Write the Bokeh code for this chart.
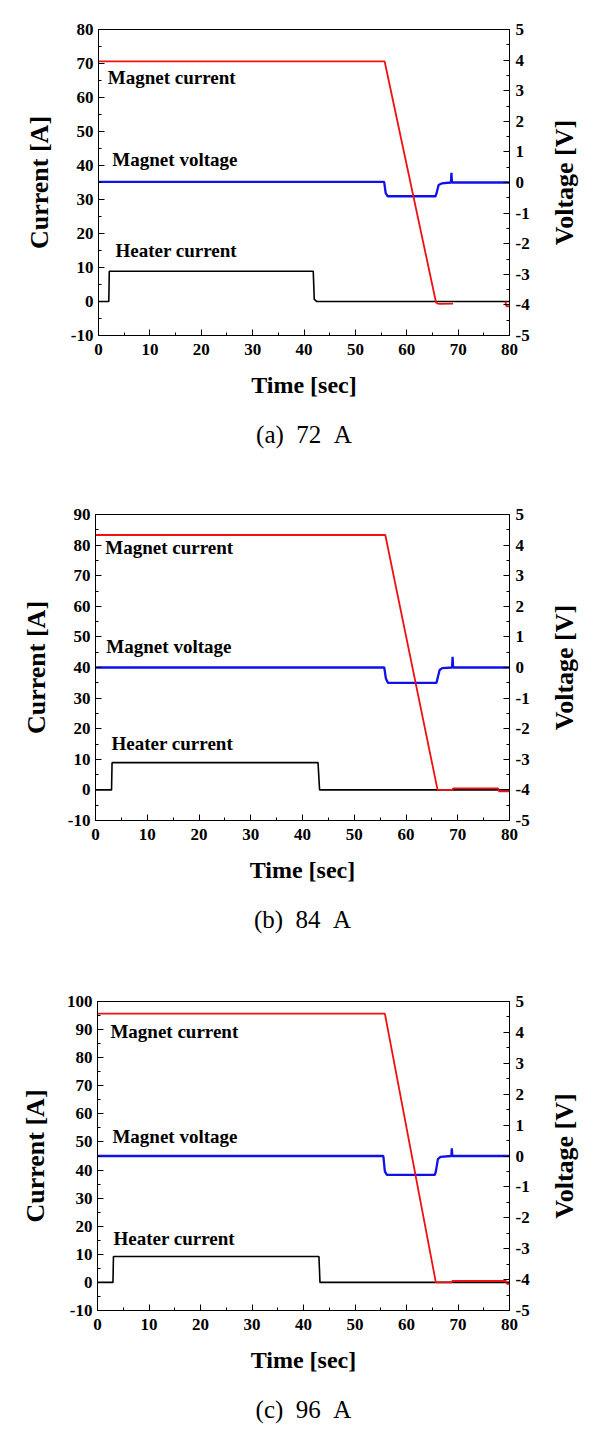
import math
from bokeh.plotting import figure
from bokeh.models import Range1d, LinearAxis, SingleIntervalTicker, Label, Title, PrintfTickFormatter
from bokeh.layouts import column, row
from bokeh.embed import file_html
from bokeh.resources import INLINE

nan = float("nan")

# ---- Panel (a) 72 A ----
a_heater_t = [0, 2.0, 2.1, 41.8, 42.0, 42.5, 80]
a_heater_i = [0, 0, 8.9, 8.9, 0.6, 0, 0]
a_magnet_t = [0, 55.7, 65.7, 66.0, 66.5, 69.0, nan, 79.2, 79.4, 80]
a_magnet_i = [70.6, 70.6, -0.3, -0.6, -0.7, -0.6, nan, 0, -1.4, -1.4]
a_volt_t = [0, 55.6, 55.9, 56.3, 65.6, 65.8, 66.2, 66.8, 68.6, 68.7, 68.8, 69.0, 80]
a_volt_v = [0.02, 0.02, -0.35, -0.45, -0.45, -0.35, -0.08, -0.03, 0.0, 0.32, 0.0, 0.0, 0.0]

# ---- Panel (b) 84 A ----
b_heater_t = [0, 3.1, 3.2, 43.0, 43.3, 80]
b_heater_i = [0, 0, 8.9, 8.9, 0, 0]
b_magnet_t = [0, 56.0, 66.1, 69.0, 69.1, 77.8, 78.0, 80]
b_magnet_i = [83.3, 83.3, 0, 0, 0.5, 0.5, -0.5, -0.5]
b_volt_t = [0, 55.8, 56.1, 56.5, 65.9, 66.1, 66.5, 67.0, 68.9, 69.0, 69.1, 69.3, 80]
b_volt_v = [0.0, 0.0, -0.35, -0.5, -0.5, -0.35, -0.08, -0.02, 0.0, 0.35, 0.0, 0.0, 0.0]

# ---- Panel (c) 96 A ----
c_heater_t = [0, 3.0, 3.1, 43.0, 43.2, 80]
c_heater_i = [0, 0, 9.2, 9.2, 0, 0]
c_magnet_t = [0, 55.8, 65.7, 68.8, 68.9, 79.3, 79.5, 80]
c_magnet_i = [95.7, 95.7, 0, 0, 0.5, 0.5, -0.5, -0.5]
c_volt_t = [0, 55.5, 55.8, 56.2, 65.5, 65.7, 66.1, 66.6, 68.7, 68.8, 68.9, 69.1, 80]
c_volt_v = [0.0, 0.0, -0.5, -0.61, -0.61, -0.5, -0.1, -0.03, 0.0, 0.25, 0.0, 0.0, 0.0]

captions = ["(a) \u00a072 \u00a0A", "(b) \u00a084 \u00a0A", "(c) \u00a096 \u00a0A"]
current_ranges = [(-10, 80), (-10, 90), (-10, 100)]
voltage_range = (-5, 5)
series_names = ["Magnet current", "Magnet voltage", "Heater current"]
voltage_title = "Voltage [V]"

SERIF = "Liberation Serif"
MAIN_W = 545
SIDE_W = 38


def style_axis(ax, interval):
    ax.ticker = SingleIntervalTicker(interval=interval, num_minor_ticks=2)
    ax.formatter = PrintfTickFormatter(format="%d")
    ax.major_tick_in = 6
    ax.major_tick_out = 0
    ax.minor_tick_in = 3
    ax.minor_tick_out = 0
    ax.axis_line_color = "black"
    ax.major_tick_line_color = "black"
    ax.minor_tick_line_color = "black"
    ax.major_label_text_font = SERIF
    ax.major_label_text_font_style = "bold"
    ax.major_label_text_font_size = "17px"
    ax.major_label_text_color = "black"
    ax.axis_label_text_font = SERIF
    ax.axis_label_text_font_style = "bold"
    ax.axis_label_text_font_size = "26px"
    ax.axis_label_text_color = "black"


def make_panel(height, b_left, frame_w, b_top, b_bottom, yr, caption,
               ht, hi, mt, mi, vt, vv, label_pos):
    p = figure(width=MAIN_W, height=height, output_backend="svg", toolbar_location=None,
               x_range=Range1d(0, 80), y_range=Range1d(*yr),
               min_border_left=b_left, min_border_right=MAIN_W - b_left - frame_w,
               min_border_top=b_top, min_border_bottom=b_bottom)
    p.extra_y_ranges = {"v": Range1d(*voltage_range)}
    p.grid.visible = False
    p.outline_line_color = "black"
    p.outline_line_width = 1
    p.background_fill_color = "white"
    p.border_fill_color = "white"

    style_axis(p.xaxis[0], 10)
    p.xaxis[0].axis_label = "Time [sec]"
    p.xaxis[0].axis_label_text_font_size = "24px"
    p.xaxis[0].major_label_standoff = 8
    p.xaxis[0].axis_label_standoff = 14
    style_axis(p.yaxis[0], 10)
    p.yaxis[0].axis_label = "Current [A]"
    p.yaxis[0].major_label_standoff = 5
    p.yaxis[0].axis_label_standoff = 14

    ra = LinearAxis(y_range_name="v")
    style_axis(ra, 1)
    ra.major_label_standoff = 6
    p.add_layout(ra, "right")

    p.line(ht, hi, color="black", line_width=1.6)
    p.line(vt, vv, color="#1010e8", line_width=2.3, y_range_name="v")
    p.line(mt, mi, color="#f01010", line_width=1.8)

    for name, (lx, ly) in zip(series_names, label_pos):
        p.add_layout(Label(x=lx, y=ly, text=name, text_font=SERIF,
                           text_font_style="bold", text_font_size="19px",
                           text_baseline="middle", text_color="black"))

    p.add_layout(Title(text=caption, align="center", text_font=SERIF,
                       text_font_style="normal", text_font_size="25px",
                       text_color="black", standoff=37), "below")

    # narrow side strip carrying the right-hand axis title (reads bottom-to-top)
    s = figure(width=SIDE_W, height=height, output_backend="svg", toolbar_location=None,
               x_range=Range1d(0, 1), y_range=Range1d(*voltage_range),
               min_border_left=0, min_border_right=0,
               min_border_top=b_top, min_border_bottom=b_bottom)
    s.axis.visible = False
    s.grid.visible = False
    s.outline_line_color = None
    s.background_fill_color = "white"
    s.border_fill_color = "white"
    s.add_layout(Label(x=0.5, y=0, text=voltage_title, angle=math.pi / 2,
                       text_align="center", text_baseline="middle",
                       text_font=SERIF, text_font_style="bold", text_font_size="26px",
                       text_color="black"))
    return row(p, s, spacing=0)


p1 = make_panel(480, 98, 411, 29, 145, current_ranges[0], captions[0],
                a_heater_t, a_heater_i, a_magnet_t, a_magnet_i, a_volt_t, a_volt_v,
                [(1.8, 65.8), (2.7, 41.7), (3.3, 15.1)])
p2 = make_panel(485, 95, 414, 34, 145, current_ranges[1], captions[1],
                b_heater_t, b_heater_i, b_magnet_t, b_magnet_i, b_volt_t, b_volt_v,
                [(1.9, 79.1), (2.1, 46.7), (3.1, 15.1)])
p3 = make_panel(480, 97, 412, 36, 135, current_ranges[2], captions[2],
                c_heater_t, c_heater_i, c_magnet_t, c_magnet_i, c_volt_t, c_volt_v,
                [(2.5, 89.3), (2.9, 51.9), (3.1, 15.7)])

layout = column(p1, p2, p3, spacing=0)

with open("out.html", "w") as f:
    f.write(file_html(layout, INLINE))
